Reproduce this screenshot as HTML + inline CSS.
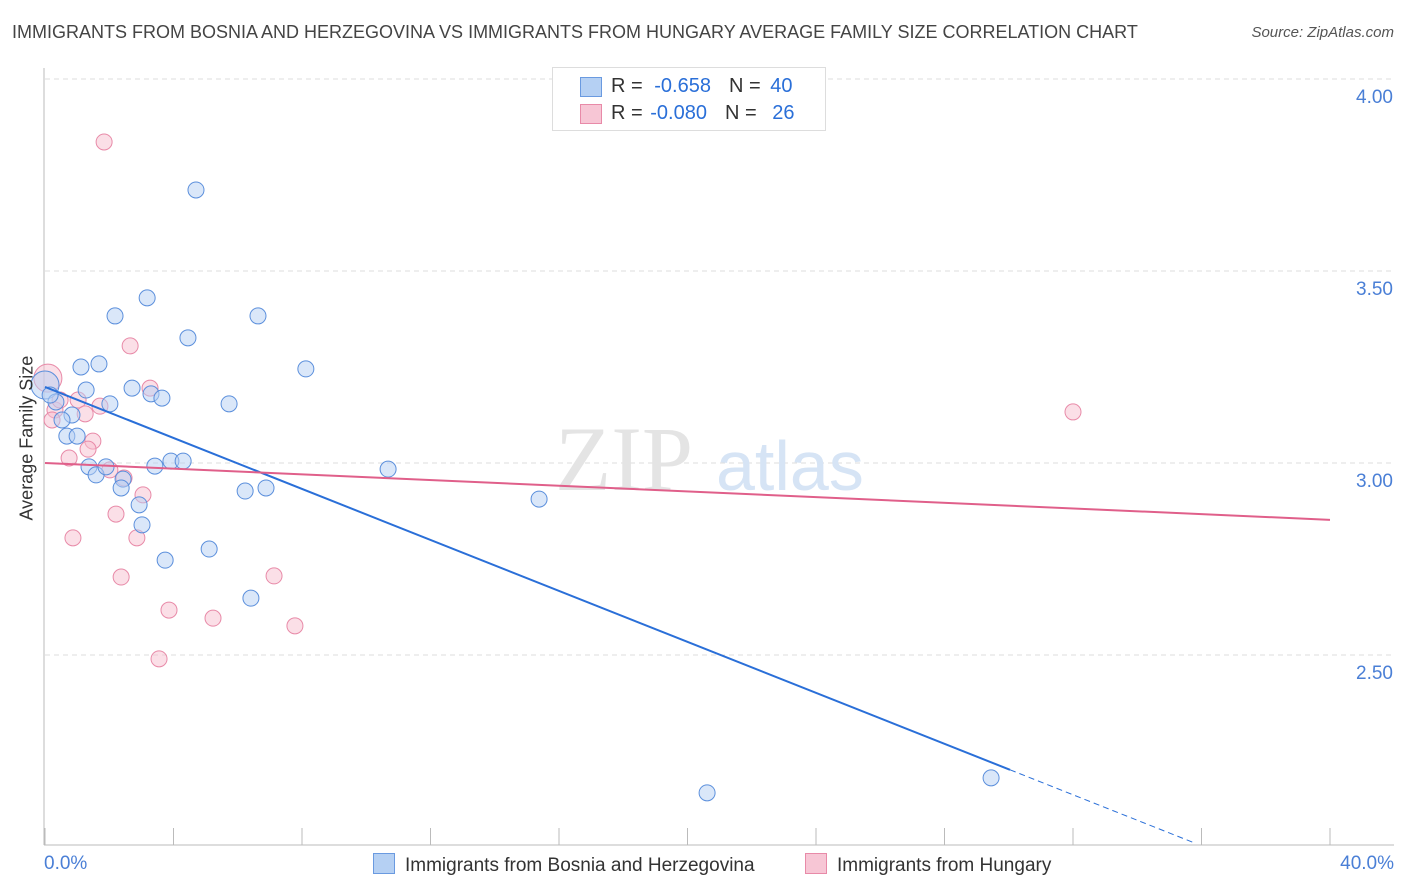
<!DOCTYPE html>
<html><head><meta charset="utf-8">
<style>
body{margin:0;background:#fff;font-family:"Liberation Sans",sans-serif;}
#wrap{position:relative;width:1406px;height:892px;overflow:hidden;}
.t{position:absolute;white-space:nowrap;}
</style></head><body>
<div id="wrap">
<div class="t" style="left:12px;top:22px;font-size:18px;color:#444;">IMMIGRANTS FROM BOSNIA AND HERZEGOVINA VS IMMIGRANTS FROM HUNGARY AVERAGE FAMILY SIZE CORRELATION CHART</div>
<div class="t" style="right:12px;top:24px;font-size:15px;color:#555;font-style:italic;">Source: ZipAtlas.com</div>
<svg id="svg" width="1406" height="892" style="position:absolute;left:0;top:0;"></svg>
</div>
<script>
const blueX=[4.70,3.18,2.18,6.63,4.45,1.68,1.12,8.12,2.71,1.28,3.30,3.64,0.0,0.34,2.02,5.73,0.84,0.53,0.68,1.00,1.37,1.59,1.90,2.43,2.37,3.42,3.92,4.30,10.68,2.93,3.02,6.23,6.88,15.38,3.74,5.11,6.41,20.61,29.45,0.16];
const blueY=[3.711,3.430,3.383,3.383,3.326,3.258,3.250,3.245,3.195,3.190,3.180,3.169,3.203,3.159,3.154,3.154,3.125,3.112,3.070,3.070,2.990,2.969,2.990,2.958,2.935,2.992,3.005,3.005,2.984,2.891,2.839,2.927,2.935,2.906,2.747,2.776,2.648,2.141,2.180,3.177];
const pinkX=[1.84,2.65,3.27,1.03,1.71,1.25,0.31,0.09,1.49,1.34,0.75,2.46,3.05,2.21,0.87,2.86,2.37,7.13,3.86,5.23,7.78,3.55,32.0,0.22,0.47,2.02];
const pinkY=[3.836,3.305,3.195,3.164,3.148,3.128,3.138,3.221,3.057,3.036,3.013,2.961,2.917,2.867,2.805,2.805,2.703,2.706,2.617,2.596,2.576,2.490,3.133,3.112,3.164,2.982];
const blueBig=[12];
const pinkBig=[7];
const yTicks=[4.0,3.5,3.0,2.5];
const yTickLabels=["4.00","3.50","3.00","2.50"];
const xTicks=[0,4,8,12,16,20,24,28,32,36,40];
const blueTrend=[[0,3.198],[30.04,2.201]];
const blueTrendDash=[[30.04,2.201],[35.8,2.01]];
const pinkTrend=[[0,3.0],[40,2.852]];

const X=v=>45+v*32.125;
const Y=v=>79+(4-v)*384;
const svg=document.getElementById('svg');
const NS='http://www.w3.org/2000/svg';
function mk(tag,attrs,parent){const e=document.createElementNS(NS,tag);for(const k in attrs)e.setAttribute(k,attrs[k]);(parent||svg).appendChild(e);return e;}

yTicks.forEach((v,i)=>{
  const g=mk('line',{x1:45,x2:1394,y1:Y(v),y2:Y(v),stroke:'#ddd','stroke-dasharray':'5,4'});
  
  
  const t=mk('text',{x:1393,y:Y(v)+24,'text-anchor':'end','font-size':19,fill:'#4a7fd6','font-family':'Liberation Sans, sans-serif'});
  t.textContent=yTickLabels[i];
  
  
});
const ya=mk('line',{x1:44,x2:44,y1:68,y2:845,stroke:'#bbb'});


const xa=mk('line',{x1:44,x2:1394,y1:845,y2:845,stroke:'#bbb'});


xTicks.forEach(v=>{
  const l=mk('line',{x1:X(v),x2:X(v),y1:828,y2:845,stroke:'#bbb'});
  
  
});
// watermark
const wm=mk('text',{x:555,y:490,'font-size':92,fill:'#e4e4e4','font-family':'Liberation Serif, serif'});
wm.textContent='ZIP';


const wm2=mk('text',{x:716,y:490,'font-size':70,fill:'#d6e4f5','font-family':'Liberation Sans, sans-serif'});
wm2.textContent='atlas';



function dots(xs,ys,big,fill,stroke,name){
  xs.forEach((x,i)=>{
    const r=big.includes(i)?14:8;
    const c=mk('circle',{cx:X(x),cy:Y(ys[i]),r:r,fill:fill,stroke:stroke,'stroke-width':1,'fill-opacity':0.5});
    
    
  });
}
dots(pinkX,pinkY,pinkBig,'#f7bfd0','#e88aa8','point-hungary');
dots(blueX,blueY,blueBig,'#b5d0f3','#5b8fdc','point-bosnia');

const bl=mk('line',{x1:X(blueTrend[0][0]),y1:Y(blueTrend[0][1]),x2:X(blueTrend[1][0]),y2:Y(blueTrend[1][1]),stroke:'#2a6fd8','stroke-width':2});


const bd=mk('line',{x1:X(blueTrendDash[0][0]),y1:Y(blueTrendDash[0][1]),x2:X(blueTrendDash[1][0]),y2:Y(blueTrendDash[1][1]),stroke:'#2a6fd8','stroke-width':1,'stroke-dasharray':'6,4'});


const pl=mk('line',{x1:X(pinkTrend[0][0]),y1:Y(pinkTrend[0][1]),x2:X(pinkTrend[1][0]),y2:Y(pinkTrend[1][1]),stroke:'#e05f8a','stroke-width':2});


</script>
<div class="t" style="left:-38px;top:445px;font-size:18px;color:#333;transform:rotate(-90deg);transform-origin:center;width:130px;text-align:center;">Average Family Size</div>
<div class="t" style="left:44px;top:853px;font-size:19px;color:#4a7fd6;">0.0%</div>
<div class="t" style="right:12px;top:853px;font-size:19px;color:#4a7fd6;">40.0%</div>
<div style="position:absolute;left:552px;top:67px;width:272px;height:62px;border:1px solid #ddd;background:#fff;font-size:20px;color:#333;">
  <div style="position:absolute;left:27px;top:9px;width:20px;height:18px;background:#b5d0f3;border:1px solid #6a9ae0;"></div>
  <div class="t" style="left:58px;top:7px;">R = <span style="color:#2a6fd8;margin-left:6px">-0.658</span><span style="margin-left:18px">N = </span><span style="color:#2a6fd8;margin-left:4px">40</span></div>
  <div style="position:absolute;left:27px;top:36px;width:20px;height:18px;background:#f7c6d5;border:1px solid #e88aa8;"></div>
  <div class="t" style="left:58px;top:34px;">R = <span style="color:#2a6fd8;margin-left:2px">-0.080</span><span style="margin-left:18px">N = </span><span style="color:#2a6fd8;margin-left:10px">26</span></div>
</div>
<div style="position:absolute;left:373px;top:853px;font-size:19px;color:#333;">
  <span style="display:inline-block;width:20px;height:19px;background:#b5d0f3;border:1px solid #6a9ae0;vertical-align:-3px;margin-right:10px;"></span>Immigrants from Bosnia and Herzegovina</div>
<div style="position:absolute;left:805px;top:853px;font-size:19px;color:#333;">
  <span style="display:inline-block;width:20px;height:19px;background:#f7c6d5;border:1px solid #e88aa8;vertical-align:-3px;margin-right:10px;"></span>Immigrants from Hungary</div>
</body></html>
